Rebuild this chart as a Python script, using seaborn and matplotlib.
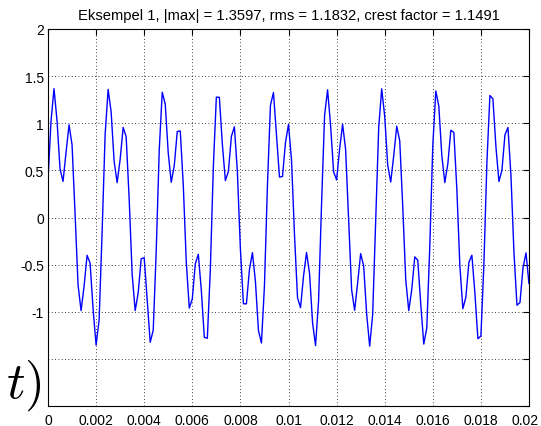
import numpy as np
import pandas as pd
import matplotlib
matplotlib.use("Agg")
import matplotlib.pyplot as plt
import matplotlib.transforms as mtransforms
import seaborn as sns

# ---- data ----
fs = 8000  # samples per second
signal_values = [
    0.400, 1.022, 1.367, 1.028, 0.516, 0.383, 0.690, 0.983, 0.772, 0.043, -0.716, -0.988, -0.730, -0.401, -0.483, -0.973, -1.354, -1.088,
    -0.157, 0.877, 1.359, 1.120, 0.595, 0.370, 0.618, 0.956, 0.857, 0.196, -0.605, -0.988, -0.800, -0.438, -0.427, -0.873, -1.324, -1.196,
    -0.356, 0.715, 1.329, 1.203, 0.683, 0.374, 0.550, 0.913, 0.918, 0.343, -0.475, -0.961, -0.863, -0.491, -0.390, -0.772, -1.272, -1.281,
    -0.549, 0.538, 1.277, 1.275, 0.777, 0.392, 0.488, 0.860, 0.962, 0.482, -0.335, -0.915, -0.916, -0.554, -0.373, -0.678, -1.199, -1.332,
    -0.725, 0.345, 1.192, 1.326, 0.878, 0.429, 0.435, 0.797, 0.988, 0.611, -0.187, -0.852, -0.957, -0.622, -0.371, -0.591, -1.115, -1.359,
    -0.885, 0.146, 1.082, 1.355, 0.978, 0.486, 0.399, 0.726, 0.988, 0.722, -0.034, -0.767, -0.984, -0.694, -0.383, -0.513, -1.023, -1.365,
    -1.029, -0.056, 0.952, 1.365, 1.075, 0.556, 0.376, 0.654, 0.969, 0.814, 0.119, -0.661, -0.988, -0.765, -0.418, -0.453, -0.923, -1.343,
    -1.173, -0.302, 0.764, 1.342, 1.182, 0.657, 0.370, 0.569, 0.926, 0.903, 0.302, -0.511, -0.968, -0.846, -0.476, -0.400, -0.800, -1.286,
    -1.258, -0.495, 0.588, 1.294, 1.258, 0.750, 0.382, 0.503, 0.877, 0.955, 0.445, -0.375, -0.931, -0.902, -0.535, -0.376, -0.703,
]
x_tick_values = [0, 0.002, 0.004, 0.006, 0.008, 0.01, 0.012, 0.014, 0.016, 0.018, 0.02]
x_tick_labels = ["0", "0.002", "0.004", "0.006", "0.008", "0.01", "0.012", "0.014", "0.016", "0.018", "0.02"]
y_tick_values = [-2, -1.5, -1, -0.5, 0, 0.5, 1, 1.5, 2]
y_tick_labels = ["-2", "-1.5", "-1", "-0.5", "0", "0.5", "1", "1.5", "2"]
title_text = "Eksempel 1, |max| = 1.3597, rms = 1.1832, crest factor = 1.1491"
ylabel_text = r"$t)$"   # visible part of the large y label

df = pd.DataFrame({
    "t": np.arange(len(signal_values)) / fs,
    "x": signal_values,
})

# ---- style ----
sns.set_style("white")
plt.rcParams["font.family"] = ["Liberation Sans", "DejaVu Sans"]
plt.rcParams["mathtext.fontset"] = "cm"

W, H = 541, 427
fig = plt.figure(figsize=(W / 100, H / 100), dpi=100)
ax = fig.add_axes([48 / W, 1 - 407 / H, 481 / W, 377 / H])

sns.lineplot(data=df, x="t", y="x", ax=ax, color="#0000ff", linewidth=1.0,
             estimator=None, sort=False, legend=False)

ax.set_xlim(0, 0.02)
ax.set_ylim(-2, 2)
ax.set_xticks(x_tick_values)
ax.set_xticklabels(x_tick_labels)
ax.set_yticks(y_tick_values)
ax.set_yticklabels(y_tick_labels)
ax.set_xlabel("")
ax.set_ylabel("")

ax.grid(True, color="black", linestyle=(0, (1, 3)), linewidth=0.6)
ax.set_axisbelow(True)
for s in ax.spines.values():
    s.set_visible(True)
    s.set_color("black")
    s.set_linewidth(0.8)

ax.tick_params(axis="both", direction="in", length=4, width=0.8, color="black",
               labelsize=10, labelcolor="black", top=True, right=True)
ax.tick_params(axis="x", pad=5)
ax.tick_params(axis="y", pad=3)

# last x label nudged left so it stays inside the canvas, as in the reference
last_lbl = ax.get_xticklabels()[-1]
last_lbl.set_transform(last_lbl.get_transform() +
                       mtransforms.ScaledTranslation(-3.5 / 100, 0, fig.dpi_scale_trans))

# the two lowest y labels are hidden behind the large y label in the reference
for lbl in ax.get_yticklabels()[:2]:
    lbl.set_visible(False)

ax.set_title(title_text, fontsize=10.6, pad=7, color="black")

# large y label (only its right part is visible in the reference)
fig.text(42 / W, 1 - 398 / H, ylabel_text, fontsize=37, ha="right", va="baseline",
         color="black")

fig.savefig("out.png", dpi=100)
